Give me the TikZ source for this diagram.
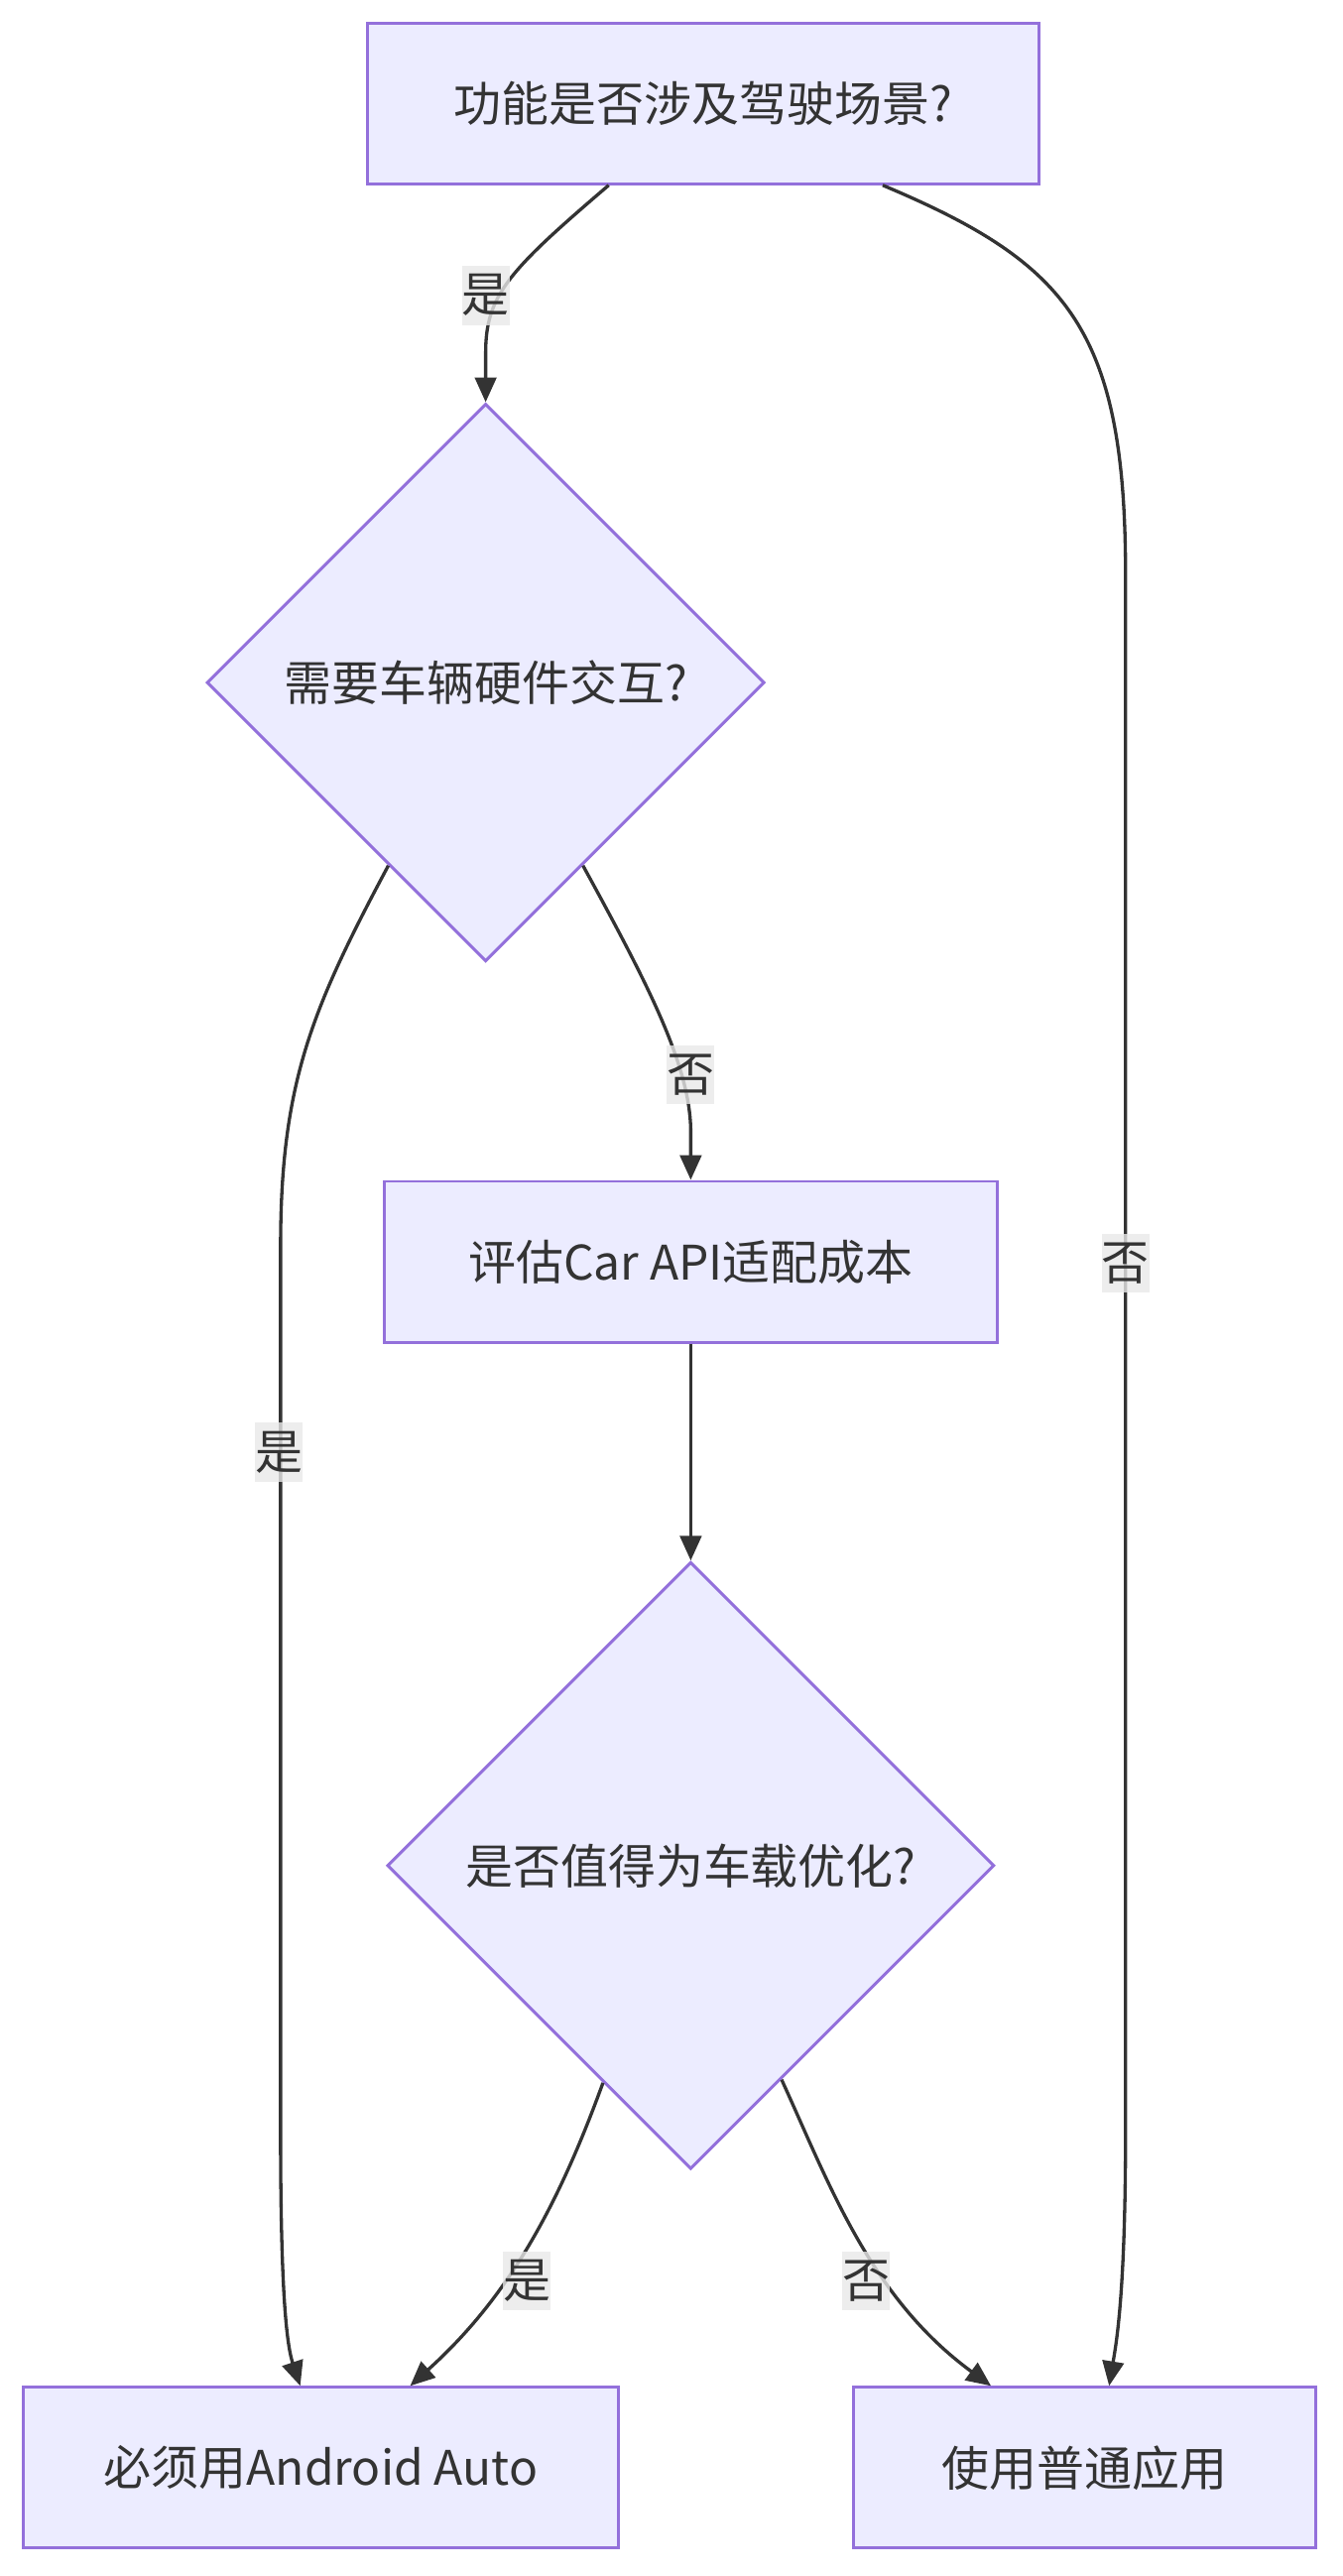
\documentclass[tikz,border=0pt]{standalone}
\usepackage{fontspec}
\setmainfont{Noto Sans CJK SC}
\usetikzlibrary{shapes.geometric,arrows.meta}
\definecolor{nodefill}{HTML}{ECECFF}
\definecolor{nodeline}{HTML}{9370DB}
\definecolor{edgeline}{HTML}{333333}
\definecolor{labelfill}{HTML}{E8E8E8}
\begin{document}
\begin{tikzpicture}[x=1pt,y=-1pt,
        box/.style={draw=nodeline,fill=nodefill,line width=1.8pt,minimum height=98pt,inner sep=0pt,text=edgeline,font=\fontsize{29}{35}\selectfont},
        decision/.style={diamond,aspect=1,draw=nodeline,fill=nodefill,line width=1.8pt,inner sep=0pt,text=edgeline,font=\fontsize{29}{35}\selectfont},
        flow/.style={draw=edgeline,line width=2pt,-{Triangle[length=15pt,width=13pt]}},
        tag/.style={fill=labelfill,fill opacity=0.8,text opacity=1,inner sep=0pt,minimum width=29pt,minimum height=36pt,text=edgeline,font=\fontsize{29}{35}\selectfont}]
    \useasboundingbox (0,0) rectangle (818,1570);
    % nodes
    \node[box,minimum width=409pt] (drive) at (428.5,63) {功能是否涉及驾驶场景?};
    \node[decision,minimum width=340pt,minimum height=340pt] (hw) at (296,416) {需要车辆硬件交互?};
    \node[box,minimum width=374pt] (cost) at (421,769) {评估Car API适配成本};
    \node[decision,minimum width=370pt,minimum height=370pt] (worth) at (421,1137) {是否值得为车载优化?};
    \node[box,minimum width=363pt] (auto) at (195.5,1504) {必须用Android Auto};
    \node[box,minimum width=282pt] (plain) at (661,1504) {使用普通应用};
    % connectors
    \draw[flow] ([xshift=-57.5pt]drive.south) .. controls (310,165) and (296,180) .. (296,215) -- (hw.north);
    \draw[flow] ([xshift=109.5pt]drive.south) .. controls (650,160) and (686,200) .. (686,350) -- (686,1300)
        .. controls (686,1400) and (680,1430) .. ([xshift=15pt]plain.north);
    \draw[flow] (hw.242.6) .. controls (190,615) and (171,660) .. (171,760) -- (171,1300)
        .. controls (171,1400) and (175,1430) .. ([xshift=-12.5pt]auto.north);
    \draw[flow] (hw.298.2) .. controls (395,600) and (421,650) .. (421,690) -- (cost.north);
    \draw[flow] (cost.south) -- (worth.north);
    \draw[flow] (worth.248.6) .. controls (340,1345) and (310,1400) .. ([xshift=54.5pt]auto.north);
    \draw[flow] (worth.293.7) .. controls (505,1330) and (530,1400) .. ([xshift=-57pt]plain.north);
    % edge labels
    \node[tag] (yes1) at (296,180) {是};
    \node[tag] (no1) at (686,770) {否};
    \node[tag] (yes2) at (170,885) {是};
    \node[tag] (no2) at (421,655) {否};
    \node[tag] (yes3) at (321,1390) {是};
    \node[tag] (no3) at (528,1390) {否};
\end{tikzpicture}
\end{document}
